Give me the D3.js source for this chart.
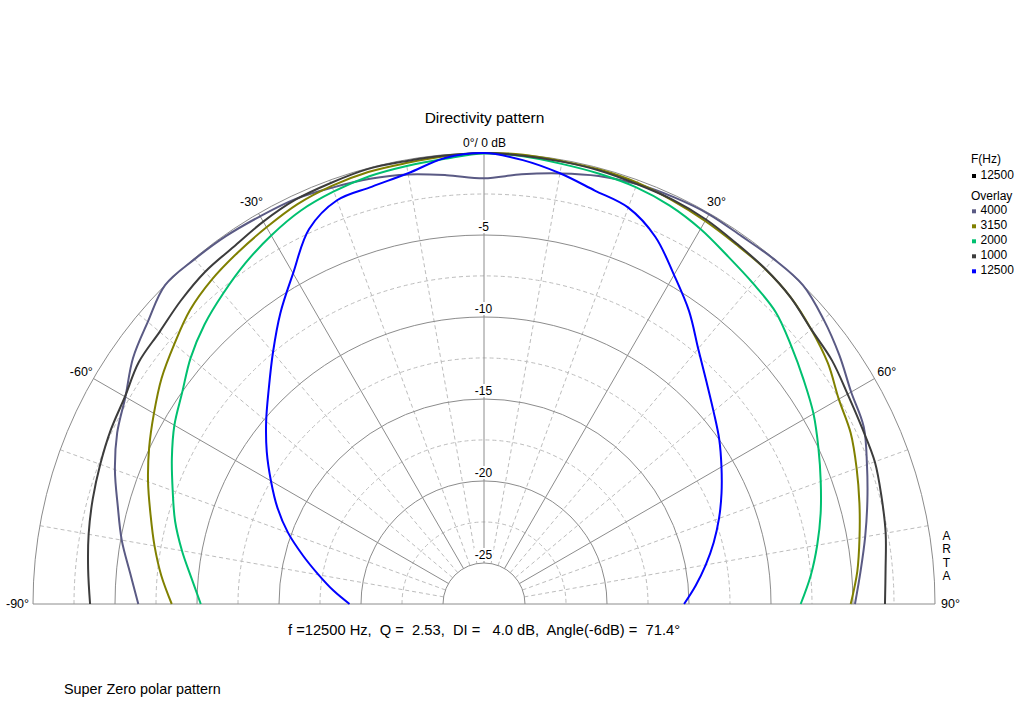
<!DOCTYPE html>
<html>
<head>
<meta charset="utf-8">
<script src="https://cdn.jsdelivr.net/npm/d3@7"></script>
<style>
  html, body { margin: 0; padding: 0; background: #fff; }
  svg { display: block; }
  text { font-family: "Liberation Sans", Arial, sans-serif; fill: #000; }
</style>
</head>
<body>
<svg id="chart" width="1024" height="701"></svg>
<script>
// ---- data ----
const angles = [-90,-85,-80,-75,-70,-65,-60,-55,-50,-45,-40,-35,-30,-25,-20,-15,-10,-5,0,5,10,15,20,25,30,35,40,45,50,55,60,65,70,75,80,85,90];
const s4000  = [-6.42,-5.84,-5.07,-4.38,-3.55,-2.82,-2.25,-1.37,-0.74,0,-0.05,-0.1,-0.2,-0.26,-0.48,-0.66,-0.9,-1.25,-1.54,-1.2,-0.84,-0.48,-0.25,-0.13,-0.06,-0.12,-0.03,0,-0.48,-1.05,-1.65,-1.95,-2.65,-3.3,-3.9,-4.45,-4.88];
const s3150  = [-8.46,-7.75,-7.1,-6.45,-5.7,-4.97,-4.26,-3.5,-2.85,-2.15,-1.68,-1.33,-0.98,-0.6,-0.37,-0.23,-0.2,-0.1,0,0,-0.08,-0.09,-0.16,-0.35,-0.53,-0.72,-0.83,-1.05,-1.45,-1.9,-2.52,-2.83,-3.32,-3.8,-4.25,-4.65,-5.14];
const s2000  = [-10.23,-9.6,-8.8,-8.0,-7.3,-6.5,-5.7,-5.03,-4.15,-3.4,-2.77,-2.13,-1.55,-1.04,-0.73,-0.5,-0.38,-0.25,-0.03,-0.1,-0.25,-0.34,-0.45,-0.7,-1.1,-1.6,-1.98,-2.34,-3.04,-3.7,-4.3,-5.0,-5.65,-6.25,-6.87,-7.5,-8.19];
const s1000  = [-3.48,-3.27,-3.02,-2.8,-2.6,-2.39,-2.22,-1.8,-1.68,-1.35,-1.05,-0.9,-0.58,-0.3,-0.18,-0.05,-0.08,-0.05,0,-0.06,-0.11,-0.15,-0.25,-0.3,-0.43,-0.66,-0.82,-1.06,-1.45,-1.6,-1.9,-2.07,-2.14,-2.4,-2.63,-2.92,-3.05];
const s12500 = [-19.3,-18.3,-17.26,-16.07,-14.78,-13.6,-12.5,-11.33,-10.16,-8.94,-7.48,-5.85,-4.22,-2.27,-1.3,-1.15,-0.83,-0.2,0,-0.33,-0.83,-1.4,-1.78,-2.79,-4.33,-5.7,-7.18,-8.32,-9.23,-9.99,-10.78,-11.52,-12.25,-13.0,-13.77,-14.54,-15.3];

const seriesNames  = ["4000","3150","2000","1000","12500"];
const seriesValues = [s4000, s3150, s2000, s1000, s12500];
const seriesColors = ["#5a5a84","#808000","#00c070","#3c3c3c","#0000ff"];

const ringSolid  = [0,-5,-10,-15,-20,-25];
const ringDashed = [-2.5,-7.5,-12.5,-17.5,-22.5];
const ringLabels = ["-5","-10","-15","-20","-25"];
const spokeSolid  = [-60,-30,0,30,60];
const spokeDashed = [-80,-70,-50,-40,-20,-10,10,20,40,50,70,80];
const angleLabels = [-90,-60,-30,30,60,90];

const title = "Directivity pattern";
const topLabel = "0°/ 0 dB";
const infoText = "f =12500 Hz,  Q =  2.53,  DI =   4.0 dB,  Angle(-6dB) =  71.4°";
const footText = "Super Zero polar pattern";
const mainFreq = "12500";

// ---- layout ----
const svg = d3.select("#chart");
const cx = 484, cy = 604, R = 451;
const r = d3.scaleLinear().domain([-27.5, 0]).range([0, R]);
const rad = d => d * Math.PI / 180;

const g = svg.append("g").attr("transform", `translate(${cx},${cy})`);
const gridColor = "#8c8c8c", dashColor = "#bdbdbd";

function halfCircle(rr) {
  const p = d3.path();
  p.moveTo(-rr, 0);
  p.arc(0, 0, rr, Math.PI, 2 * Math.PI);
  return p.toString();
}

// dashed rings
g.selectAll(".rd").data(ringDashed).join("path")
  .attr("d", d => halfCircle(r(d)))
  .attr("fill", "none").attr("stroke", dashColor).attr("stroke-width", 1).attr("stroke-dasharray", "4,3");
// dashed spokes
g.selectAll(".sd").data(spokeDashed).join("line")
  .attr("x1", d => r(-25) * Math.sin(rad(d))).attr("y1", d => -r(-25) * Math.cos(rad(d)))
  .attr("x2", d => R * Math.sin(rad(d))).attr("y2", d => -R * Math.cos(rad(d)))
  .attr("stroke", dashColor).attr("stroke-width", 1).attr("stroke-dasharray", "4,3");
// solid rings
g.selectAll(".rs").data(ringSolid).join("path")
  .attr("d", d => halfCircle(r(d)))
  .attr("fill", "none").attr("stroke", gridColor).attr("stroke-width", 1);
// solid spokes
g.selectAll(".ss").data(spokeSolid).join("line")
  .attr("x1", d => r(-25) * Math.sin(rad(d))).attr("y1", d => -r(-25) * Math.cos(rad(d)))
  .attr("x2", d => R * Math.sin(rad(d))).attr("y2", d => -R * Math.cos(rad(d)))
  .attr("stroke", gridColor).attr("stroke-width", 1);
// baseline
g.append("line").attr("x1", -R).attr("x2", R).attr("y1", 0).attr("y2", 0)
  .attr("stroke", gridColor).attr("stroke-width", 1);

// ring labels with white background
ringLabels.forEach(lbl => {
  const v = +lbl;
  const t = g.append("text").attr("x", -0.5).attr("y", -r(v) - 4)
    .attr("text-anchor", "middle").attr("font-size", 12).text(lbl);
  const bb = t.node().getBBox();
  g.insert("rect", "text").attr("x", bb.x - 1).attr("y", bb.y)
    .attr("width", bb.width + 2).attr("height", bb.height - 1).attr("fill", "#fff");
});

// curves
const line = d3.lineRadial()
  .angle(d => rad(d[0]))
  .radius(d => r(d[1]))
  .curve(d3.curveCatmullRom.alpha(0.5));

seriesValues.forEach((vals, i) => {
  const pts = angles.map((a, k) => [a, vals[k]]);
  g.append("path").attr("d", line(pts))
    .attr("fill", "none").attr("stroke", seriesColors[i]).attr("stroke-width", 2)
    .attr("stroke-linejoin", "round");
});

// angle labels
const RL = 465;
g.selectAll(".al").data(angleLabels).join("text")
  .attr("x", d => RL * Math.sin(rad(d)) + (Math.abs(d) === 90 ? Math.sign(d) * 1.5 : 0))
  .attr("y", d => -RL * Math.cos(rad(d)) + 4.3)
  .attr("text-anchor", "middle").attr("font-size", 12.5)
  .text(d => d + "°");

// top label
svg.append("text").attr("x", 484.5).attr("y", 147).attr("text-anchor", "middle")
  .attr("font-size", 12).text(topLabel);

// title
svg.append("text").attr("x", 484.5).attr("y", 122.5).attr("text-anchor", "middle")
  .attr("font-size", 15.5).text(title);

// ARTA vertical
["A","R","T","A"].forEach((ch, i) => {
  svg.append("text").attr("x", 946.5).attr("y", 540 + i * 13.4).attr("text-anchor", "middle")
    .attr("font-size", 12).text(ch);
});

// info text
svg.append("text").attr("x", 484).attr("y", 635).attr("text-anchor", "middle")
  .attr("font-size", 14.7).attr("xml:space", "preserve").style("white-space", "pre").text(infoText);

// footer
svg.append("text").attr("x", 64).attr("y", 694).attr("font-size", 14.4).text(footText);

// legend
const lg = svg.append("g");
lg.append("text").attr("x", 971).attr("y", 163.3).attr("font-size", 12).text("F(Hz)");
lg.append("rect").attr("x", 972).attr("y", 174).attr("width", 4).attr("height", 4).attr("fill", "#000");
lg.append("text").attr("x", 980.5).attr("y", 179.3).attr("font-size", 12).text(mainFreq);
lg.append("text").attr("x", 971).attr("y", 200).attr("font-size", 12).text("Overlay");
seriesNames.forEach((n, i) => {
  const by = 214.3 + i * 15;
  lg.append("rect").attr("x", 972).attr("y", by - 5).attr("width", 4).attr("height", 4).attr("fill", seriesColors[i]);
  lg.append("text").attr("x", 980.5).attr("y", by).attr("font-size", 12).text(n);
});
</script>
</body>
</html>
